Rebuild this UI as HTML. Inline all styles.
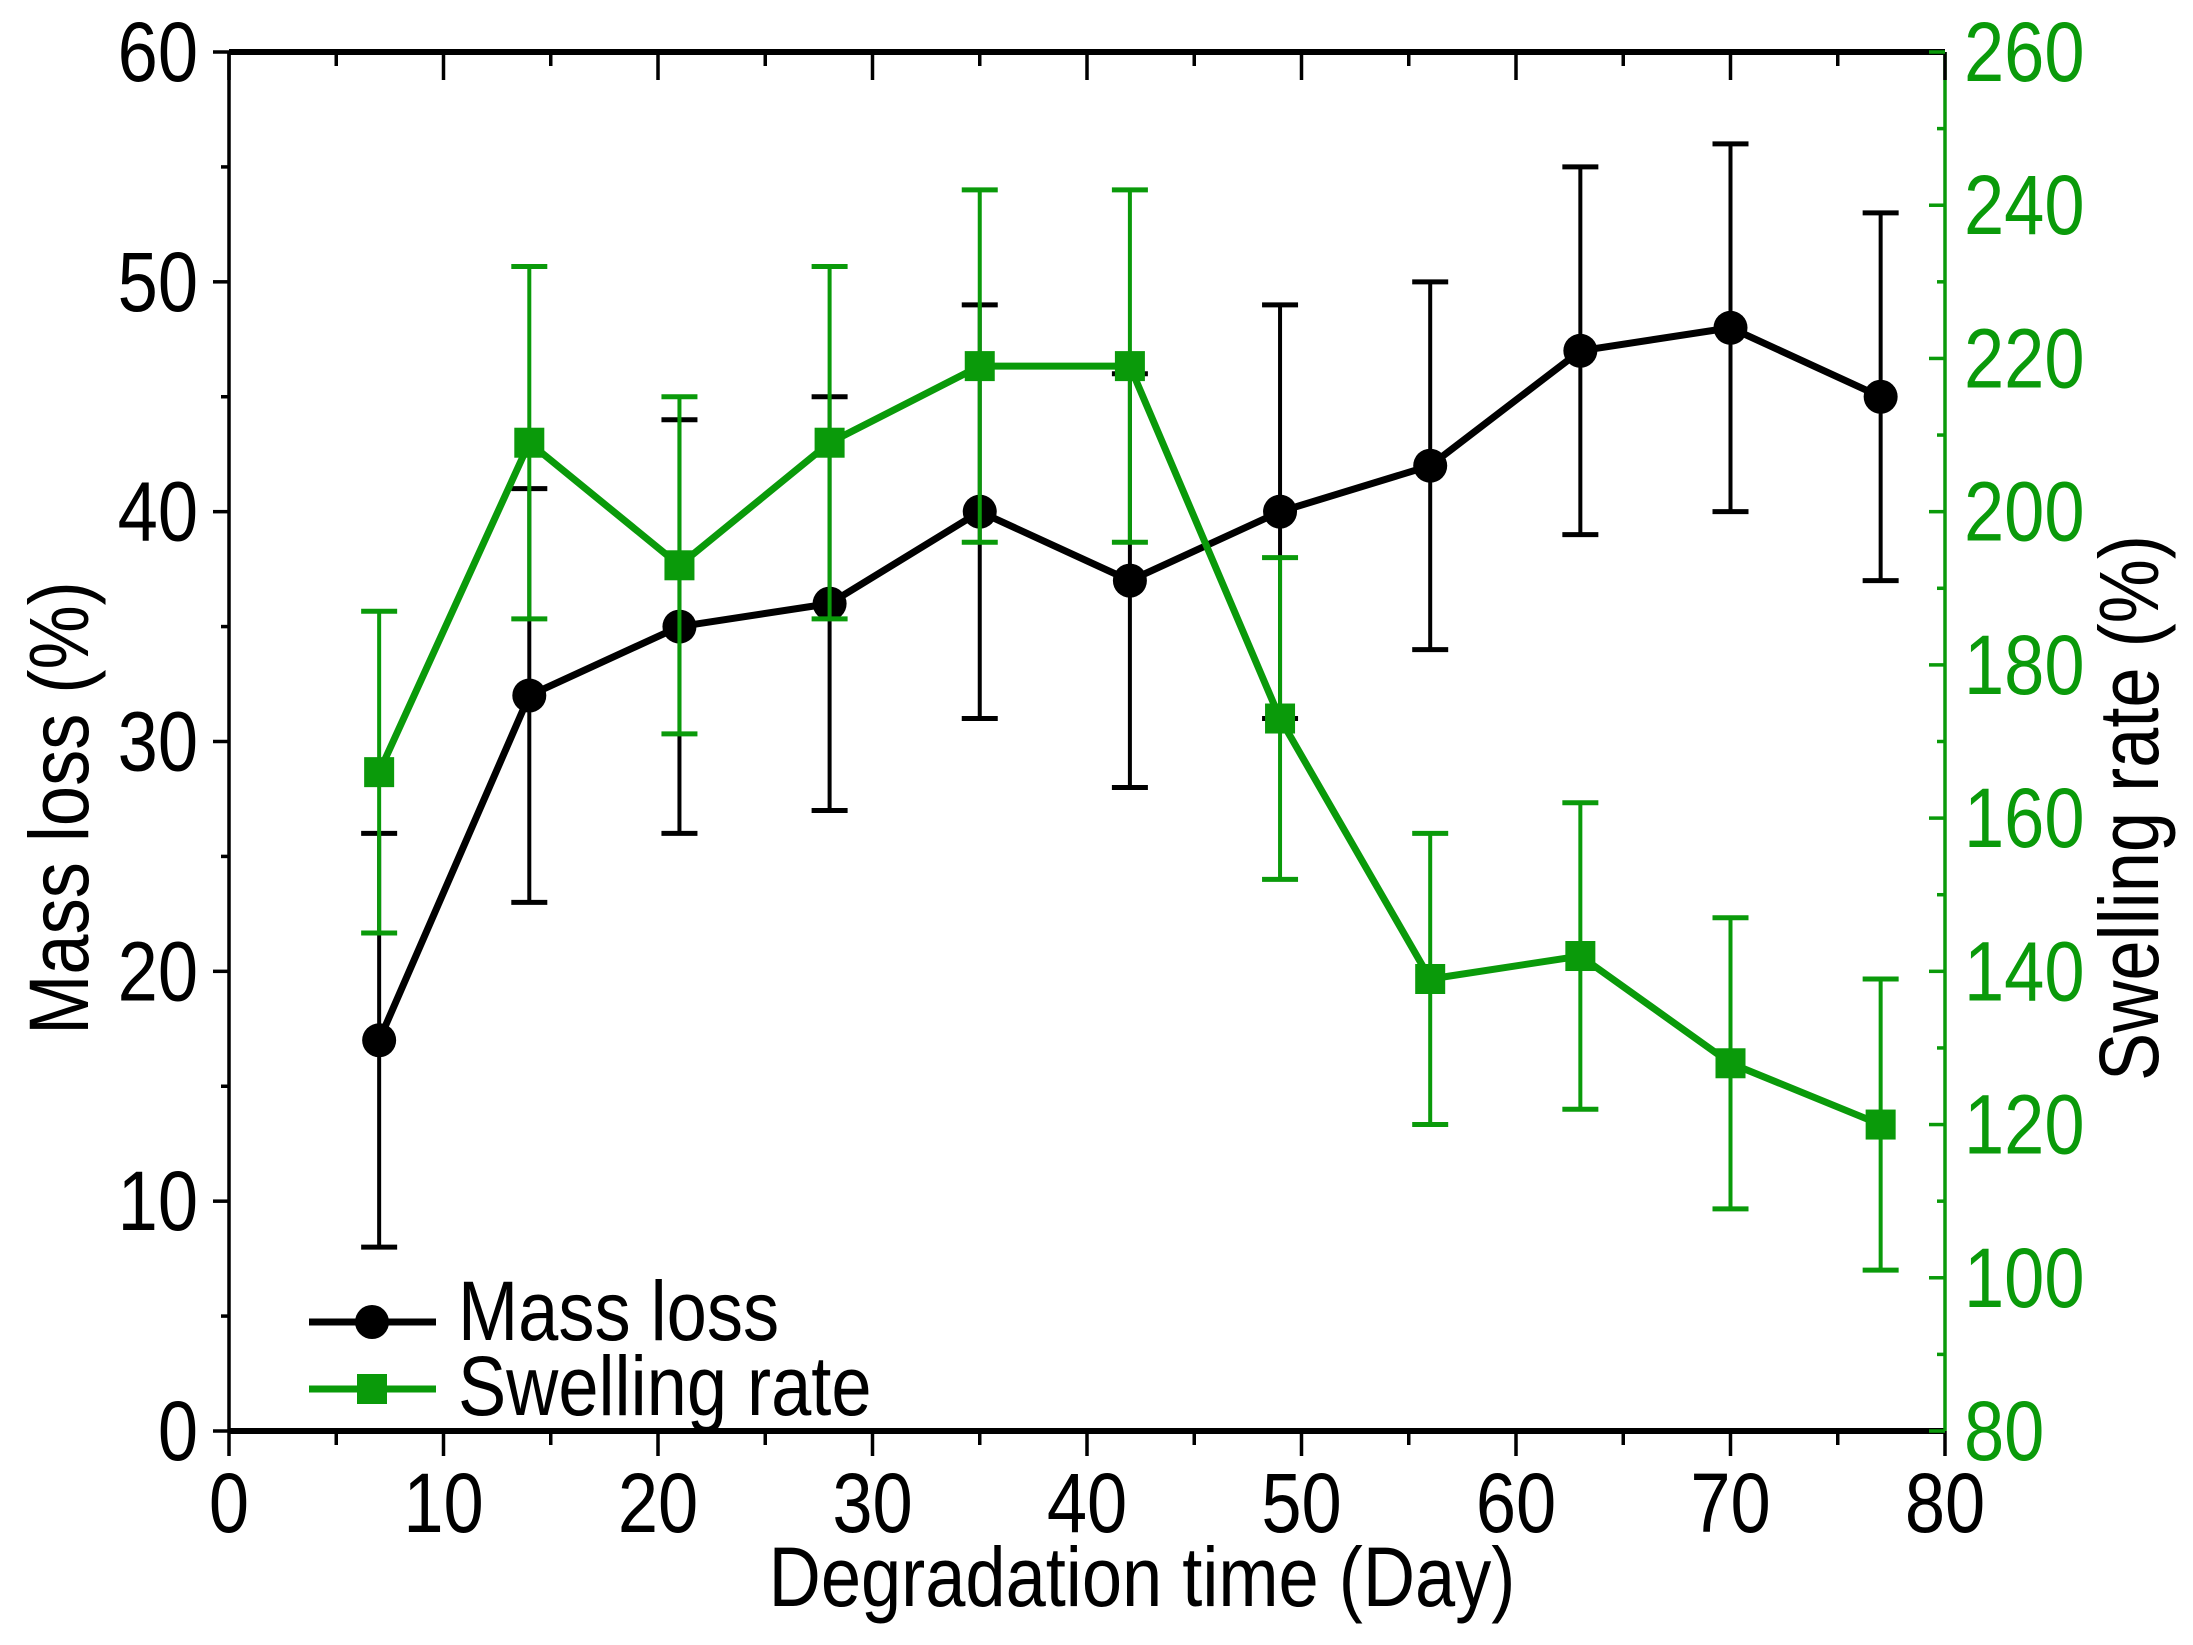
<!DOCTYPE html>
<html><head><meta charset="utf-8"><style>
html,body{margin:0;padding:0;background:#fff;}
svg{display:block;font-family:"Liberation Sans",sans-serif;}
</style></head><body>
<svg id="chart" width="2193" height="1645" viewBox="0 0 2193 1645" xmlns="http://www.w3.org/2000/svg"></svg>
<script>
const days = [7,14,21,28,35,42,49,56,63,70,77];
const massLoss = [17,32,35,36,40,37,40,42,47,48,45];
const massErr = [9,9,9,9,9,9,9,8,8,8,8];
const swelling = [166,209,193,209,219,219,173,139,142,128,120];
const swellErr = [21,23,22,23,23,23,21,19,20,19,19];
const xTicks = [0,10,20,30,40,50,60,70,80];
const yLeftTicks = [0,10,20,30,40,50,60];
const yRightTicks = [80,100,120,140,160,180,200,220,240,260];

const L=229,R=1945,T=52,B=1431;
const GREEN="#0a9a0a";
const FS=84;
const sx=v=>L+(v-0)/80*(R-L);
const syL=v=>B-(v-0)/60*(B-T);
const syR=v=>B-(v-80)/180*(B-T);
const svg=document.getElementById('chart');
const NS="http://www.w3.org/2000/svg";
function mk(tag,attrs,parent){const e=document.createElementNS(NS,tag);for(const k in attrs)e.setAttribute(k,attrs[k]);(parent||svg).appendChild(e);return e;}
function txt(s,x,y,size,anchor,fill,extra){const g=mk('g',{transform:`translate(${x},${y}) ${extra||''} scale(0.86,1)`});const t=mk('text',{x:0,y:0,'font-size':size,'text-anchor':anchor,fill:fill},g);t.textContent=s;return {g,t};}

const ax=mk('g',{});


mk('line',{x1:L,y1:B,x2:R,y2:B,stroke:'#000','stroke-width':6},ax);
mk('line',{x1:L,y1:T,x2:R,y2:T,stroke:'#000','stroke-width':6},ax);
mk('line',{x1:L,y1:T,x2:L,y2:B,stroke:'#000','stroke-width':3.5},ax);
mk('line',{x1:R,y1:T,x2:R,y2:B,stroke:GREEN,'stroke-width':3.5},ax);

for(let v=0;v<=80;v+=5){const x=sx(v);const major=v%10===0;
 mk('line',{x1:x,y1:B,x2:x,y2:B+(major?25:14),stroke:'#000','stroke-width':3.5},ax);
 mk('line',{x1:x,y1:T,x2:x,y2:T+(major?28:14),stroke:'#000','stroke-width':3.5},ax);}
xTicks.forEach(v=>{const r=txt(String(v),sx(v),1532,FS,'middle','#000');
 
 });
for(let v=0;v<=60;v+=5){const y=syL(v);mk('line',{x1:L,y1:y,x2:L-(v%10===0?16:8),y2:y,stroke:'#000','stroke-width':3.5},ax);}
yLeftTicks.forEach(v=>{const r=txt(String(v),198,syL(v)+29,FS,'end','#000');
 
 });
for(let v=80;v<=260;v+=10){const y=syR(v);mk('line',{x1:R,y1:y,x2:R-(v%20===0?16:8),y2:y,stroke:GREEN,'stroke-width':3.5},ax);}
yRightTicks.forEach(v=>{const r=txt(String(v),1964,syR(v)+29,FS,'start',GREEN);
 
 });

let r=txt('Degradation time (Day)',1142,1606,FS,'middle','#000');


r=txt('Mass loss (%)',88,808,FS,'middle','#000','rotate(-90)');


r=txt('Swelling rate (%)',2158,808,FS,'middle','#000','rotate(-90)');



const gm=mk('g',{});


days.forEach((d,i)=>{const x=sx(d),y1=syL(massLoss[i]-massErr[i]),y2=syL(massLoss[i]+massErr[i]);
 mk('line',{x1:x,y1:y1,x2:x,y2:y2,stroke:'#000','stroke-width':4},gm);
 mk('line',{x1:x-18,y1:y1,x2:x+18,y2:y1,stroke:'#000','stroke-width':5},gm);
 mk('line',{x1:x-18,y1:y2,x2:x+18,y2:y2,stroke:'#000','stroke-width':5},gm);});
mk('polyline',{points:days.map((d,i)=>sx(d)+','+syL(massLoss[i])).join(' '),fill:'none',stroke:'#000','stroke-width':7},gm);
days.forEach((d,i)=>{const c=mk('circle',{cx:sx(d),cy:syL(massLoss[i]),r:17,fill:'#000'},gm);
 
 });

const gs=mk('g',{});


days.forEach((d,i)=>{const x=sx(d),y1=syR(swelling[i]-swellErr[i]),y2=syR(swelling[i]+swellErr[i]);
 mk('line',{x1:x,y1:y1,x2:x,y2:y2,stroke:GREEN,'stroke-width':4},gs);
 mk('line',{x1:x-18,y1:y1,x2:x+18,y2:y1,stroke:GREEN,'stroke-width':5},gs);
 mk('line',{x1:x-18,y1:y2,x2:x+18,y2:y2,stroke:GREEN,'stroke-width':5},gs);});
mk('polyline',{points:days.map((d,i)=>sx(d)+','+syR(swelling[i])).join(' '),fill:'none',stroke:GREEN,'stroke-width':7},gs);
days.forEach((d,i)=>{const q=mk('rect',{x:sx(d)-15,y:syR(swelling[i])-15,width:30,height:30,fill:GREEN},gs);
 
 });

const lg=mk('g',{});


mk('line',{x1:309,y1:1322,x2:436,y2:1322,stroke:'#000','stroke-width':7},lg);
mk('circle',{cx:372,cy:1322,r:17,fill:'#000'},lg);
mk('line',{x1:309,y1:1389,x2:436,y2:1389,stroke:GREEN,'stroke-width':7},lg);
mk('rect',{x:357,y:1374,width:30,height:30,fill:GREEN},lg);
r=txt('Mass loss',458,1340,FS,'start','#000');


r=txt('Swelling rate',458,1415,FS,'start','#000');


</script>
</body></html>
